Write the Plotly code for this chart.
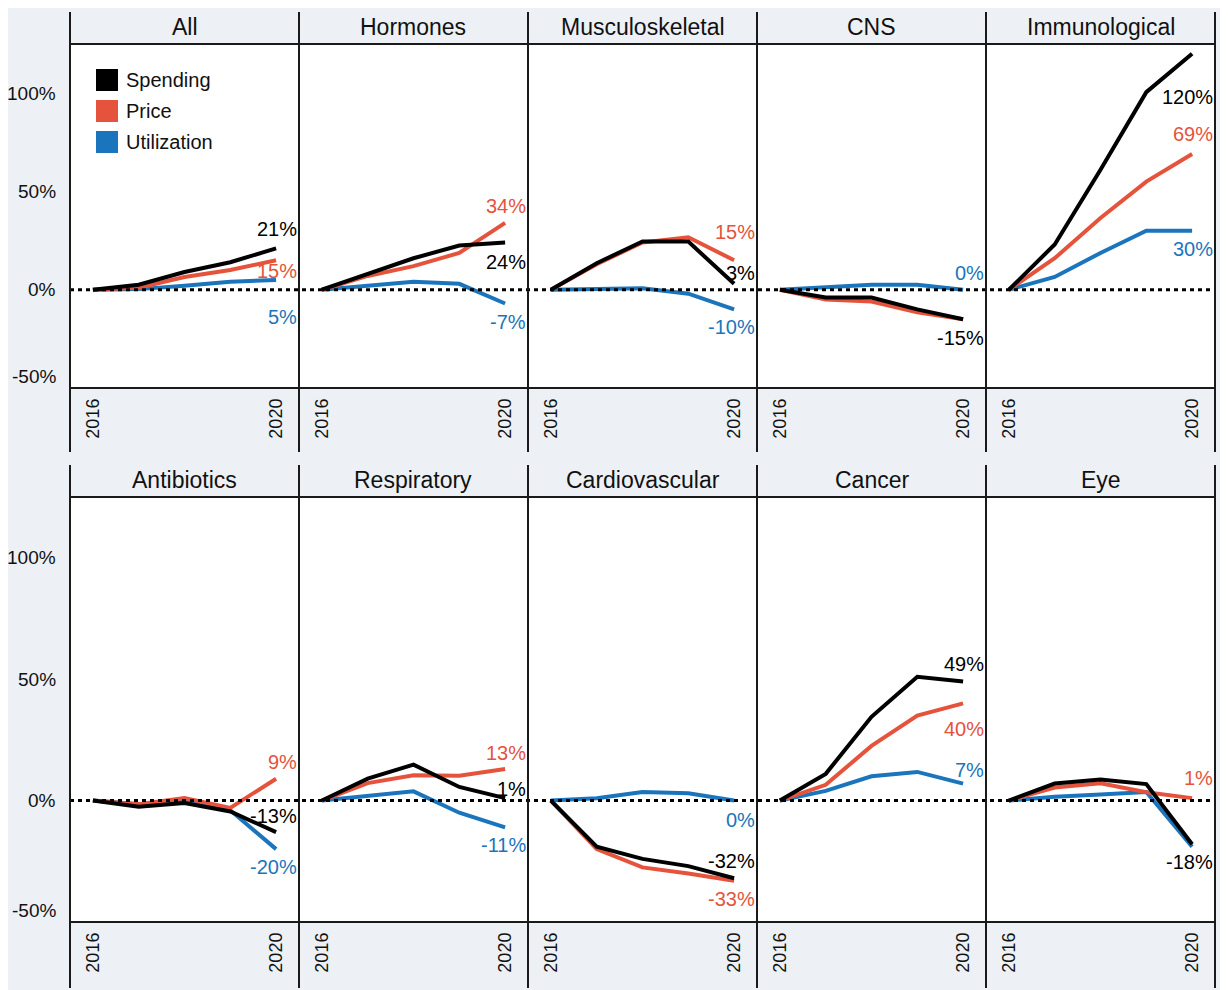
import plotly.graph_objects as go

# the page adds an 8px body margin, so the figure is laid out 8px smaller
OFF = 8
W, H = 1228 - OFF, 990 - OFF

YEARS = [2016, 2017, 2018, 2019, 2020]
CATEGORIES = ["All", "Hormones", "Musculoskeletal", "CNS", "Immunological",
              "Antibiotics", "Respiratory", "Cardiovascular", "Cancer", "Eye"]

# cumulative change since 2016, in %
spending = {
    "All": [0, 2.5, 9, 14, 21],
    "Hormones": [0, 8, 16, 22.5, 24],
    "Musculoskeletal": [0, 13.5, 24.5, 24.5, 3],
    "CNS": [0, -4, -4, -10, -15],
    "Immunological": [0, 23, 61, 100.5, 120],
    "Antibiotics": [0, -2.5, -1, -4.5, -13],
    "Respiratory": [0, 9, 14.8, 5.6, 1],
    "Cardiovascular": [0, -19, -24, -27, -32],
    "Cancer": [0, 11, 34.5, 51, 49],
    "Eye": [0, 7, 8.7, 6.8, -18],
}
price = {
    "All": [0, 1, 6.5, 10, 15],
    "Hormones": [0, 7, 12, 18.7, 34],
    "Musculoskeletal": [0, 13, 24, 26.7, 15],
    "CNS": [0, -5, -6, -11.5, -15],
    "Immunological": [0, 16, 36.5, 55, 69],
    "Antibiotics": [0, -1.5, 1, -3, 9],
    "Respiratory": [0, 7.2, 10.4, 10.2, 13],
    "Cardiovascular": [0, -20, -27.5, -30, -33],
    "Cancer": [0, 6.5, 22.5, 35, 40],
    "Eye": [0, 5.4, 7.1, 3.4, 1],
}
utilization = {
    "All": [0, 0.3, 2, 4, 5],
    "Hormones": [0, 2, 4, 3, -7],
    "Musculoskeletal": [0, 0.3, 0.8, -2, -10],
    "CNS": [0, 1.5, 2.5, 2.5, 0],
    "Immunological": [0, 6.5, 18.7, 30, 30],
    "Antibiotics": [0, -1.5, -0.5, -4, -20],
    "Respiratory": [0, 2, 3.8, -5, -11],
    "Cardiovascular": [0, 1, 3.5, 3, 0],
    "Cancer": [0, 4, 10, 11.8, 7],
    "Eye": [0, 1.6, 2.5, 3.5, -19],
}

Y_TICKS = [100, 50, 0, -50]

SERIES = [("Spending", spending, "#000000"),
          ("Price", price, "#E5533C"),
          ("Utilization", utilization, "#1B75BC")]
COLORS = {name: c for name, _, c in SERIES}
DATA = {name: d for name, d, _ in SERIES}

# end-label vertical offsets in px (positive = up); missing = no label
LABEL_SHIFT = {
    "All": {"Spending": 19, "Price": -11, "Utilization": -37},
    "Hormones": {"Spending": -19, "Price": 17, "Utilization": -19},
    "Musculoskeletal": {"Spending": 11, "Price": 28, "Utilization": -18},
    "CNS": {"Spending": -19, "Utilization": 17},
    "Immunological": {"Spending": -43, "Price": 20, "Utilization": -18},
    "Antibiotics": {"Spending": 16, "Price": 17, "Utilization": -18},
    "Respiratory": {"Spending": 9, "Price": 16, "Utilization": -18},
    "Cardiovascular": {"Spending": 17, "Price": -18, "Utilization": -19},
    "Cancer": {"Spending": 18, "Price": -26, "Utilization": 14},
    "Eye": {"Spending": -18, "Price": 20},
}

FONT = "Liberation Sans, Arial, sans-serif"
BG = "#EDF1F5"
BORDER = "#1a1a1a"

COL_X = [70 + 229 * c for c in range(6)]
# rows: (header top, plot top, plot bottom, axis bottom) in screen px
ROWS = [(12, 44, 388, 452), (465, 497, 922, 988)]
YRANGE = [-50, 125]


def px(x):
    return (x - OFF) / W


def py(y):
    return 1 - (y - OFF) / H


fig = go.Figure()
layout = {}
annotations = []
shapes = []

for i, cat in enumerate(CATEGORIES):
    r, c = divmod(i, 5)
    n = "" if i == 0 else str(i + 1)
    htop, ptop, pbot, abot = ROWS[r]
    x0, x1 = COL_X[c], COL_X[c + 1]

    layout["xaxis" + n] = dict(
        domain=[px(x0), px(x1)], anchor="y" + n, range=[2015.5, 2020.5],
        tickvals=[2016, 2020], ticktext=["2016", "2020"], tickangle=-90,
        ticks="", ticklabelstandoff=6, showgrid=False, zeroline=False,
        showline=False, tickfont=dict(size=18, color="#111", family=FONT),
        fixedrange=True,
    )
    layout["yaxis" + n] = dict(
        domain=[py(pbot), py(ptop)], anchor="x" + n, range=YRANGE,
        showticklabels=False, ticks="", showgrid=False, zeroline=False,
        showline=False, fixedrange=True,
    )

    for name, d, color in reversed(SERIES):
        fig.add_trace(go.Scatter(
            x=YEARS, y=d[cat], mode="lines", name=name,
            line=dict(color=color, width=4),
            xaxis="x" + n, yaxis="y" + n, showlegend=False,
            hovertemplate=f"{cat} {name}: %{{y:.0f}}%<extra></extra>",
        ))

    # panel header
    annotations.append(dict(
        text=cat, xref="paper", yref="paper",
        x=px((x0 + x1) / 2), y=py((htop + ptop) / 2 - 1),
        xanchor="center", yanchor="middle", showarrow=False,
        font=dict(size=23, color="#111", family=FONT),
    ))

    # end labels
    for name, shift in LABEL_SHIFT[cat].items():
        v = DATA[name][cat][-1]
        annotations.append(dict(
            text=f"{v:.0f}%", xref="x" + n, yref="y" + n,
            x=2020.5, y=v, yshift=shift, xanchor="right", yanchor="middle",
            showarrow=False, font=dict(size=20, color=COLORS[name], family=FONT),
        ))

# row frames, zero lines and y tick labels
for r, (htop, ptop, pbot, abot) in enumerate(ROWS):
    yname = "y" if r == 0 else "y6"
    shapes.append(dict(type="line", xref="paper", yref=yname,
                       x0=px(COL_X[0]), x1=px(COL_X[-1]), y0=0, y1=0,
                       line=dict(color="#000", width=3, dash="4px,4px"),
                       layer="above"))
    for y in (ptop, pbot):
        shapes.append(dict(type="line", xref="paper", yref="paper",
                           x0=px(COL_X[0]), x1=px(COL_X[-1]), y0=py(y), y1=py(y),
                           line=dict(color=BORDER, width=2), layer="above"))
    for x in COL_X:
        shapes.append(dict(type="line", xref="paper", yref="paper",
                           x0=px(x), x1=px(x), y0=py(htop), y1=py(abot),
                           line=dict(color=BORDER, width=2), layer="above"))
    for t in Y_TICKS:
        annotations.append(dict(
            text=f"{t}%", xref="paper", yref=yname, x=px(58), y=t,
            yshift=12 if t == YRANGE[0] else 0,
            xanchor="right", yanchor="middle", showarrow=False,
            font=dict(size=19, color="#111", family=FONT),
        ))

# legend inside the "All" panel
for k, (name, _, color) in enumerate(SERIES):
    yc = 80 + 31 * k
    shapes.append(dict(type="rect", xref="paper", yref="paper",
                       x0=px(96), x1=px(118), y0=py(yc - 11), y1=py(yc + 11),
                       fillcolor=color, line=dict(width=0), layer="above"))
    annotations.append(dict(
        text=name, xref="paper", yref="paper", x=px(124), y=py(yc),
        xanchor="left", yanchor="middle", showarrow=False,
        font=dict(size=20, color="#111", family=FONT),
    ))

fig.update_layout(
    width=W, height=H,
    margin=dict(l=0, r=0, t=0, b=0),
    paper_bgcolor=BG, plot_bgcolor="#FFFFFF",
    font=dict(family=FONT, color="#111"),
    showlegend=False,
    annotations=annotations, shapes=shapes,
    **layout,
)

fig.write_html("out.html")
